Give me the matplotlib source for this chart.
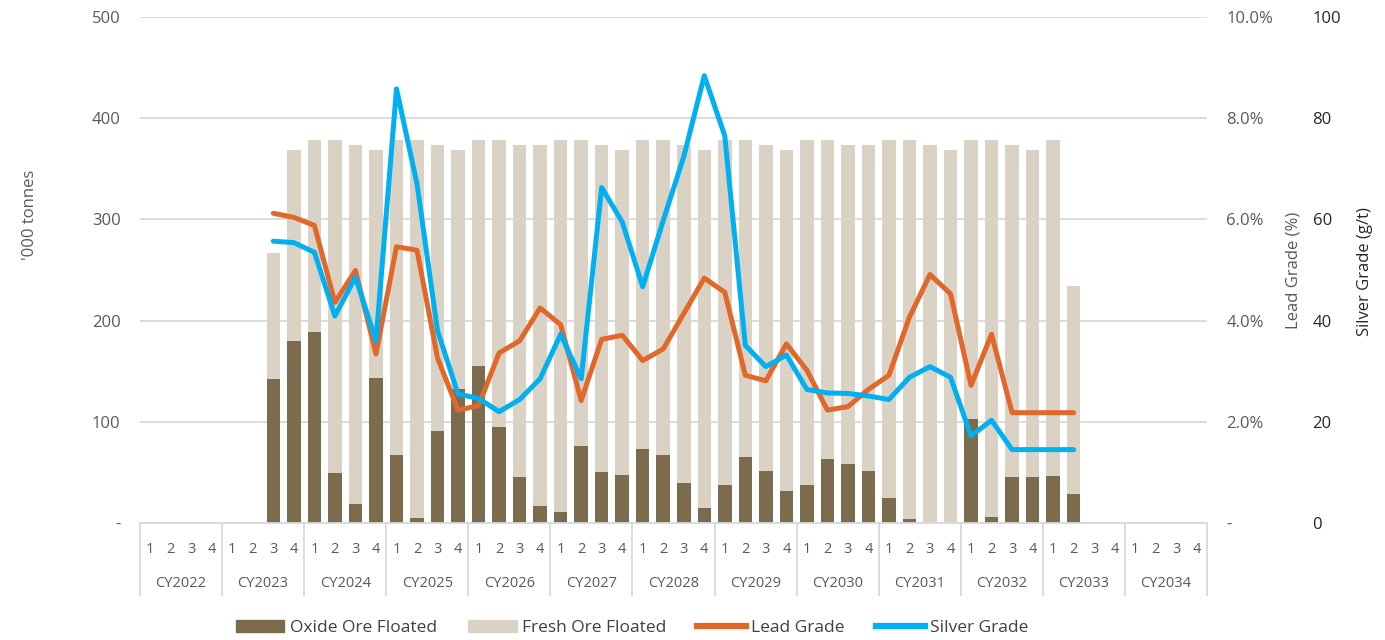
import matplotlib.pyplot as plt
import matplotlib.transforms as mtransforms
from matplotlib.lines import Line2D
from matplotlib.patches import Patch
import numpy as np

plt.rcParams['font.family'] = ['Open Sans', 'DejaVu Sans']

# years and quarters on the x axis (13 years x 4 quarters)
years = ["CY2022", "CY2023", "CY2024", "CY2025", "CY2026", "CY2027", "CY2028",
         "CY2029", "CY2030", "CY2031", "CY2032", "CY2033", "CY2034"]
quarters = ["1", "2", "3", "4"]

# '000 tonnes, CY2023 Q3 .. CY2033 Q2 (nan = no production)
nan = np.nan
total_ore = [nan, nan, nan, nan, nan, nan, 267, 369,
             378, 378, 374, 369, 378, 378, 374, 369,
             378, 378, 374, 374, 378, 378, 374, 369,
             378, 378, 374, 369, 378, 378, 374, 369,
             378, 378, 374, 374, 378, 378, 374, 369,
             378, 378, 374, 369, 378, 234, nan, nan,
             nan, nan, nan, nan]
oxide_ore = [nan, nan, nan, nan, nan, nan, 142, 180,
             189, 49, 19, 143, 67, 5, 91, 132,
             155, 95, 45, 17, 11, 76, 50, 47,
             73, 67, 40, 15, 38, 65, 51, 32,
             38, 63, 58, 51, 25, 4, 0, 0,
             103, 6, 45, 45, 46, 29, nan, nan,
             nan, nan, nan, nan]

# lead grade (%) and silver grade (g/t)
lead_grade = [nan, nan, nan, nan, nan, nan, 6.12, 6.04,
              5.88, 4.36, 4.99, 3.34, 5.46, 5.39, 3.26, 2.23,
              2.32, 3.36, 3.60, 4.25, 3.92, 2.42, 3.63, 3.71,
              3.21, 3.44, 4.14, 4.84, 4.56, 2.92, 2.81, 3.54,
              3.02, 2.23, 2.30, 2.64, 2.92, 4.07, 4.91, 4.53,
              2.72, 3.73, 2.18, 2.18, 2.18, 2.18, nan, nan,
              nan, nan, nan, nan]
silver_grade = [nan, nan, nan, nan, nan, nan, 55.7, 55.4,
                53.5, 40.9, 48.6, 36.0, 85.8, 67.0, 38.0, 25.5,
                24.6, 22.0, 24.4, 28.5, 37.3, 28.5, 66.3, 59.5,
                46.7, 59.8, 72.4, 88.4, 76.5, 35.1, 30.9, 33.2,
                26.4, 25.7, 25.6, 25.1, 24.4, 28.8, 30.9, 28.8,
                17.2, 20.3, 14.5, 14.5, 14.5, 14.5, nan, nan,
                nan, nan, nan, nan]

oxide = np.array(oxide_ore)
fresh = np.array(total_ore) - oxide
lead = np.array(lead_grade) / 100
silver = np.array(silver_grade)
x = np.arange(len(years) * len(quarters))

c_oxide = "#7D6B4E"
c_fresh = "#DAD3C5"
c_lead = "#E2672A"
c_silver = "#00B0F0"
c_grid = "#D9D9D9"
c_text = "#595959"

fig = plt.figure(figsize=(13.85, 6.4), dpi=100)
ax = fig.add_axes([140 / 1385, 1 - 523 / 640, (1207 - 140) / 1385, (523 - 17) / 640])

ax.bar(x, oxide, width=0.66, color=c_oxide, zorder=2)
ax.bar(x, fresh, width=0.66, bottom=oxide, color=c_fresh, zorder=2)
ax.set_xlim(-0.5, len(x) - 0.5)
ax.set_ylim(0, 500)
ax.set_yticks([0, 100, 200, 300, 400, 500])
ax.yaxis.set_major_formatter(plt.FuncFormatter(lambda v, p: "-" if v == 0 else f"{v:.0f}"))
ax.grid(axis="y", color=c_grid, lw=1.3, zorder=0)
ax.tick_params(axis="y", length=0, pad=14, labelsize=12, labelcolor=c_text)
ax.tick_params(axis="x", length=0, labelbottom=False)
for s in ["top", "left", "right"]:
    ax.spines[s].set_visible(False)
ax.spines["bottom"].set_color(c_grid)
ax.spines["bottom"].set_linewidth(1.3)

# category table under the plot
trans = mtransforms.blended_transform_factory(ax.transData, ax.transAxes)
for i in range(len(years) + 1):
    ax.plot([i * 4 - 0.5] * 2, [0, -0.142], transform=trans, color=c_grid,
            lw=1.3, clip_on=False)
for i, yr in enumerate(years):
    ax.text(i * 4 + 1.5, -0.12, yr, transform=trans, ha="center", va="center",
            fontsize=10.5, color=c_text)
    for j, q in enumerate(quarters):
        ax.text(i * 4 + j, -0.052, q, transform=trans, ha="center", va="center",
                fontsize=10.5, color=c_text)

# lead grade axis
ax2 = ax.twinx()
ax2.plot(x, lead, color=c_lead, lw=3.6, solid_capstyle="round", zorder=3)
ax2.set_ylim(0, 0.10)
ax2.set_yticks([0, 0.02, 0.04, 0.06, 0.08, 0.10])
ax2.yaxis.set_major_formatter(plt.FuncFormatter(lambda v, p: "-" if v == 0 else f"{v * 100:.1f}%"))
ax2.tick_params(axis="y", length=0, pad=14, labelsize=12, labelcolor=c_text)

# silver grade axis
ax3 = ax.twinx()
ax3.plot(x, silver, color=c_silver, lw=3.6, solid_capstyle="round", zorder=4)
ax3.set_ylim(0, 100)
ax3.set_yticks([0, 20, 40, 60, 80, 100])
ax3.tick_params(axis="y", length=0, pad=76, labelsize=12, labelcolor="#262626")

for a in (ax2, ax3):
    for s in a.spines.values():
        s.set_visible(False)

fig.text(30 / 1385, 1 - 215 / 640, "'000 tonnes", rotation=90, ha="center",
         va="center", fontsize=12, color=c_text)
fig.text(1293 / 1385, 1 - 270 / 640, "Lead Grade (%)", rotation=90, ha="center",
         va="center", fontsize=12, color=c_text)
fig.text(1365 / 1385, 1 - 272 / 640, "Silver Grade (g/t)", rotation=90, ha="center",
         va="center", fontsize=12, color="#262626")

handles = [Patch(color=c_oxide), Patch(color=c_fresh),
           Line2D([], [], color=c_lead, lw=4.5), Line2D([], [], color=c_silver, lw=4.5)]
labels = ["Oxide Ore Floated", "Fresh Ore Floated", "Lead Grade", "Silver Grade"]
fig.legend(handles, labels, loc="center", bbox_to_anchor=(632 / 1385, 1 - 628 / 640),
           ncol=4, frameon=False, fontsize=12.5, handlelength=2.8, handletextpad=0.3,
           columnspacing=1.8, labelcolor="#404040")

fig.savefig("out.png", dpi=100)
